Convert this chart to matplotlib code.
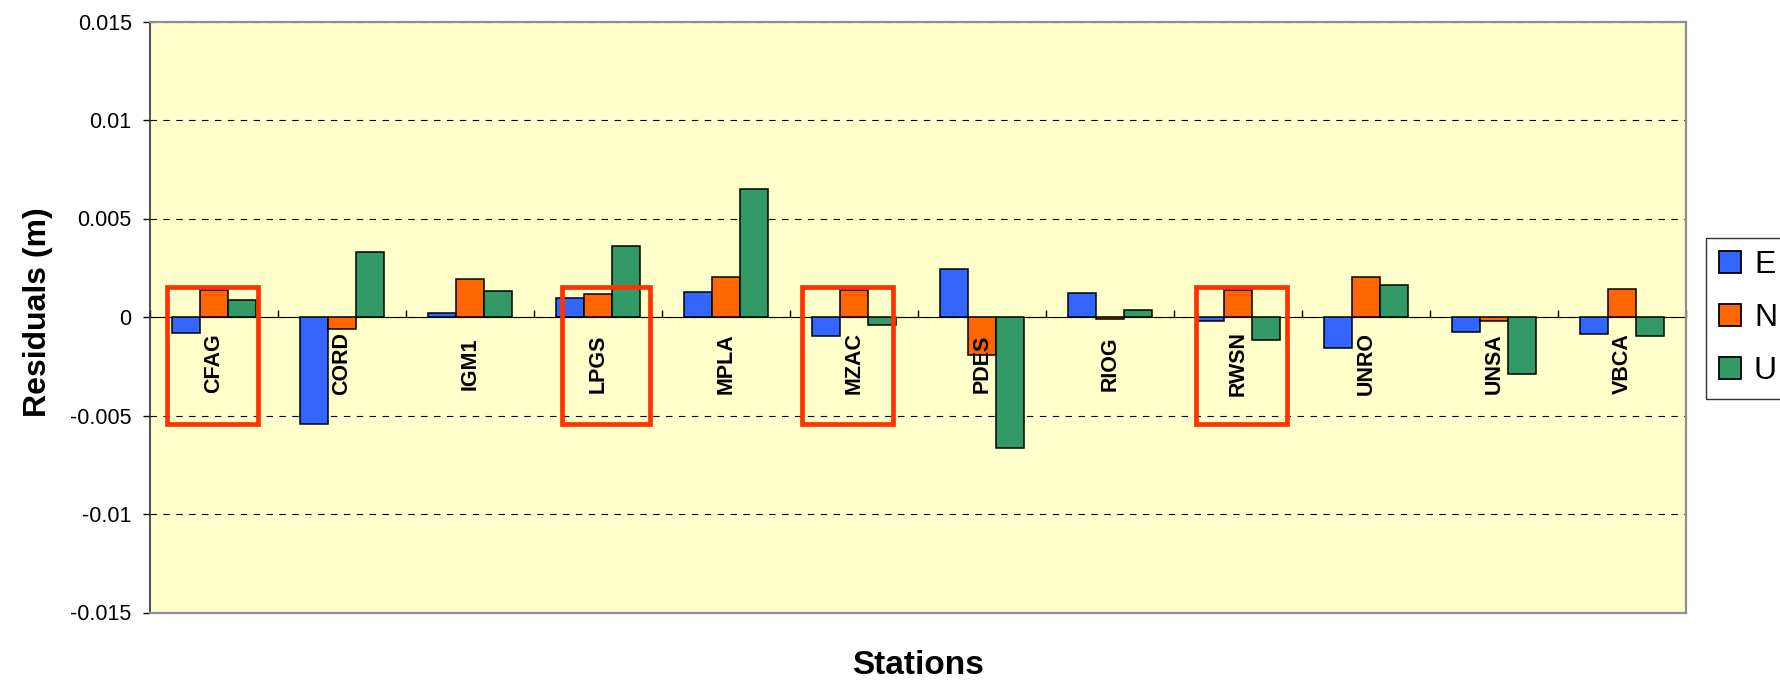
import numpy as np
import matplotlib
matplotlib.use("Agg")
import matplotlib.pyplot as plt
from matplotlib.patches import Rectangle, Patch

plt.rcParams['font.family'] = ['Liberation Sans', 'DejaVu Sans']

# ── Data ──────────────────────────────────────────────────────
stations = ["CFAG", "CORD", "IGM1", "LPGS", "MPLA", "MZAC",
            "PDES", "RIOG", "RWSN", "UNRO", "UNSA", "VBCA"]
res_e = [-0.00082, -0.00543, 0.00022, 0.00097, 0.00128, -0.00096,
         0.00245, 0.00120, -0.00022, -0.00159, -0.00075, -0.00085]
res_n = [0.00137, -0.00063, 0.00193, 0.00118, 0.00205, 0.00137,
         -0.00191, -0.00012, 0.00137, 0.00205, -0.00020, 0.00140]
res_u = [0.00085, 0.00330, 0.00130, 0.00358, 0.00650, -0.00043,
         -0.00667, 0.00034, -0.00118, 0.00160, -0.00288, -0.00097]
components = ["E", "N", "U"]
y_ticks = [-0.015, -0.01, -0.005, 0, 0.005, 0.01, 0.015]
y_tick_labels = ["-0.015", "-0.01", "-0.005", "0", "0.005", "0.01", "0.015"]

# hand-drawn red boxes around some stations
highlighted = ["CFAG", "LPGS", "MZAC", "RWSN"]
box_left = [-0.365, -0.279, -0.404, -0.330]
box_right = [0.341, 0.406, 0.307, 0.380]
box_top, box_bottom = 0.00152, -0.00545

# ── Style ─────────────────────────────────────────────────────
COLORS = ["#3366FF", "#FF6600", "#339966"]
BG = "#FFFFCC"
BOX_RED = "#FF3300"
BAR_W = 0.217
LABEL_Y = -0.00236   # centre of the rotated station names

fig = plt.figure(figsize=(17.8, 6.84), dpi=100)
ax = fig.add_axes([150 / 1780, 1 - 612.5 / 684, 1536 / 1780, 591 / 684])
ax.set_facecolor(BG)

x = np.arange(len(stations))
for k, vals in enumerate([res_e, res_n, res_u]):
    ax.bar(x + (k - 1) * BAR_W, vals, width=BAR_W, color=COLORS[k],
           edgecolor="black", linewidth=1.1, zorder=3)

for name, l, r in zip(highlighted, box_left, box_right):
    i = stations.index(name)
    ax.add_patch(Rectangle((i + l, box_bottom), r - l, box_top - box_bottom,
                           fill=False, edgecolor=BOX_RED, linewidth=3.4,
                           zorder=5))

# station names sit inside the plot, just under the zero line
for i, name in enumerate(stations):
    ax.text(i, LABEL_Y, name, rotation=90, ha="center", va="center",
            fontsize=15.5, fontweight="bold", zorder=6)

ax.set_xlim(-0.5, len(stations) - 0.5)
ax.set_ylim(-0.015, 0.015)
ax.set_yticks(y_ticks, y_tick_labels, fontsize=15.5)
ax.tick_params(axis="y", direction="out", length=4.8, width=1, pad=8.4)
ax.set_xticks([])
ax.yaxis.grid(True, color="black", linestyle=(0, (5.8, 5.8)), linewidth=0.8)
ax.set_axisbelow(True)

for side in ["top", "right", "bottom"]:
    ax.spines[side].set_color("#909090")
    ax.spines[side].set_linewidth(1.6)
ax.spines["left"].set_color("#303030")
ax.spines["left"].set_linewidth(1.2)

# category axis crosses at zero
sec = ax.secondary_xaxis(0.5)
sec.spines["bottom"].set_linewidth(1.0)
sec.set_ticks(np.arange(len(stations) + 1) - 0.5, labels=[])
sec.tick_params(which="major", direction="out", length=4.8, width=1)
sec.tick_params(which="minor", bottom=False)

ax.set_ylabel("Residuals (m)", fontsize=23, fontweight="bold", va="center")
ax.yaxis.set_label_coords(-0.0728, 0.509)
ax.set_xlabel("Stations", fontsize=24, fontweight="bold", va="center")
ax.xaxis.set_label_coords(0.5, -0.0905)

handles = [Patch(facecolor=c, edgecolor="black", linewidth=1.3) for c in COLORS]
leg = fig.legend(handles, components, loc="upper left",
                 bbox_to_anchor=(1706 / 1780, 1 - 237.7 / 684),
                 borderaxespad=0, fontsize=23, frameon=True, fancybox=False,
                 handlelength=0.7, handleheight=0.7, handletextpad=0.4,
                 borderpad=0.4, labelspacing=0.72)
leg.get_frame().set_edgecolor("black")
leg.get_frame().set_linewidth(1.0)

fig.savefig("out.png", dpi=100)
